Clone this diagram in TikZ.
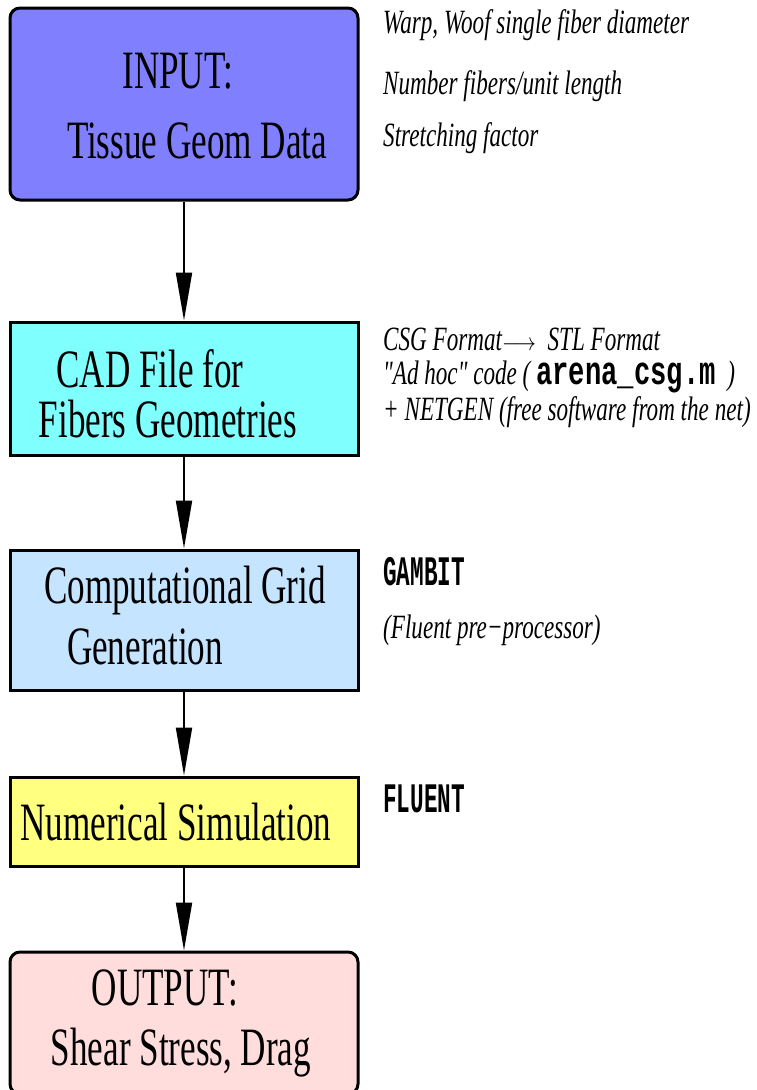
\documentclass[tikz,border=0pt]{standalone}
\usepackage{fontspec}
\usetikzlibrary{arrows.meta, positioning}
\newfontfamily\boxfont[FakeStretch=0.65]{Liberation Serif}
\newfontfamily\notefont[FakeStretch=0.68]{Liberation Serif}
\newfontfamily\codefont[FakeStretch=0.68]{Liberation Mono}
\newfontfamily\progfont[FakeStretch=0.54]{Liberation Mono}
\definecolor{inputblue}{RGB}{128,128,255}
\definecolor{cadcyan}{RGB}{128,255,255}
\definecolor{gridblue}{RGB}{196,228,255}
\definecolor{simyellow}{RGB}{255,255,128}
\definecolor{outpink}{RGB}{255,221,221}

\tikzset{
	stagebox/.style={draw, line width=3pt, minimum width=348pt, inner sep=0pt},
	stagetext/.style={font=\boxfont\fontsize{54}{60}\selectfont, anchor=base, inner sep=0pt},
	notetext/.style={font=\notefont\itshape\fontsize{34}{40}\selectfont, anchor=base west, inner sep=0pt},
	progtext/.style={font=\progfont\bfseries\fontsize{42}{46}\selectfont, anchor=base west, inner sep=0pt},
	flow/.style={line width=2pt, -{Triangle[length=48pt, width=16pt]}}
}

\begin{document}
\begin{tikzpicture}[x=1pt, y=-1pt]
	\useasboundingbox (0,0) rectangle (757,1090);
	% boxes %
	\node[stagebox, rounded corners=10pt, fill=inputblue, minimum height=192pt] (input) at (184,104) {};
	\node[stagebox, fill=cadcyan, minimum height=133pt] (cad) at (184,388.5) {};
	\node[stagebox, fill=gridblue, minimum height=140pt] (grid) at (184,620) {};
	\node[stagebox, fill=simyellow, minimum height=89pt] (sim) at (184,821.5) {};
	\node[stagebox, rounded corners=10pt, fill=outpink, minimum height=142pt] (output) at (184,1023) {};

	% box texts %
	\node[stagetext] (inputa) at (178,88) {INPUT:};
	\node[stagetext] (inputb) at (197,158) {Tissue Geom Data};
	\node[stagetext] (cada) at (150,387) {CAD File for};
	\node[stagetext] (cadb) at (168,437) {Fibers Geometries};
	\node[stagetext] (grida) at (185,603) {Computational Grid};
	\node[stagetext] (gridb) at (145,664) {Generation};
	\node[stagetext] (sima) at (176,840) {Numerical Simulation};
	\node[stagetext] (outa) at (165,1005) {OUTPUT:};
	\node[stagetext] (outb) at (181,1065) {Shear Stress, Drag};

	% notes %
	\node[notetext] (warp) at (383,33) {Warp, Woof single fiber diameter};
	\node[notetext] (number) at (383,94) {Number fibers/unit length};
	\node[notetext] (stretch) at (383,146) {Stretching factor};
	\node[notetext] (csg) at (383,350) {CSG Format\scalebox{0.85}[1]{$\longrightarrow$}\ \ STL Format};
	\node[notetext] (adhoc) at (383,384) {"Ad hoc" code ( {\codefont\upshape\bfseries\fontsize{40}{44}\selectfont arena\_csg.m}\ \ )};
	\node[notetext] (netgen) at (383,420) {+ NETGEN (free software from the net)};
	\node[progtext] (gambit) at (383,585) {GAMBIT};
	\node[notetext] (pre) at (383,638) {(Fluent pre−processor)};
	\node[progtext] (fluent) at (383,812) {FLUENT};

	% edges %
	\draw[flow] (input) -- (cad);
	\draw[flow] (cad) -- (grid);
	\draw[flow] (grid) -- (sim);
	\draw[flow] (sim) -- (output);
\end{tikzpicture}
\end{document}
